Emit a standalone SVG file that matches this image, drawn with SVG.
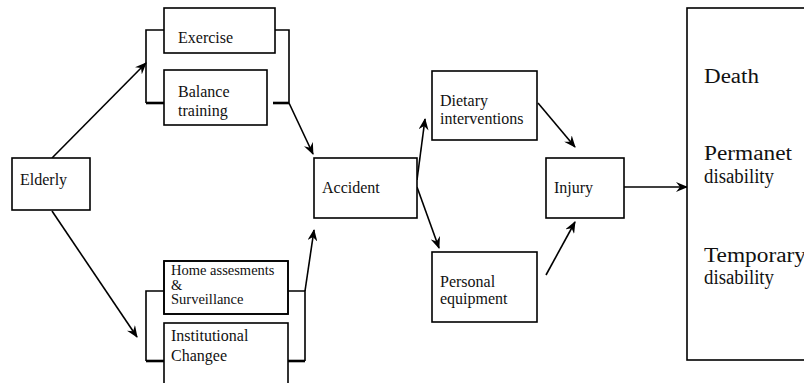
<svg xmlns="http://www.w3.org/2000/svg" width="804" height="383" viewBox="0 0 804 383">
<style>
.box{fill:#fff;stroke:#000;stroke-width:1.6}
.t{font-family:'Liberation Serif','DejaVu Serif','Noto Serif',serif;font-size:16px;fill:#111}
.s{font-family:'Liberation Serif','DejaVu Serif','Noto Serif',serif;font-size:14.5px;fill:#111}
.big{font-family:'Liberation Serif','DejaVu Serif','Noto Serif',serif;font-size:20px;fill:#111}
.ln{fill:none;stroke:#000;stroke-width:1.6}
.th{fill:none;stroke:#000;stroke-width:2.6}
.ar{fill:none;stroke:#000;stroke-width:1.6;marker-end:url(#ah)}
</style>
<defs>
<marker id="ah" viewBox="0 0 12 10" markerWidth="12" markerHeight="10" refX="11" refY="5" orient="auto" markerUnits="userSpaceOnUse">
<path d="M0,0 L12,5 L0,10 L4,5 z" fill="#000"/>
</marker>
<clipPath id="hc"><rect x="164" y="261" width="124" height="53"/></clipPath>
</defs>
<rect width="804" height="383" fill="#fff"/>
<g id="connectors">
<path class="ln" d="M164,30 H146 V103"/>
<path class="th" d="M146,103 H164"/>
<path class="ln" d="M275,30 H289 V103"/>
<path class="th" d="M273,103 H289"/>
<path class="ln" d="M164,291 H146 V361"/>
<path class="th" d="M146,361 H164"/>
<path class="ln" d="M288,291 H305 V361"/>
<path class="th" d="M288,361 H305"/>
<line class="ar" x1="52" y1="158" x2="146" y2="63"/>
<line class="ar" x1="52" y1="211" x2="137" y2="337"/>
<line class="ar" x1="289" y1="103" x2="313" y2="154"/>
<line class="ar" x1="305" y1="291" x2="314" y2="230"/>
<line class="ar" x1="417" y1="180" x2="425" y2="119"/>
<line class="ar" x1="417" y1="187" x2="439" y2="248"/>
<line class="ar" x1="538" y1="103" x2="575" y2="147"/>
<line class="ar" x1="546" y1="275" x2="575" y2="222"/>
<line class="ar" x1="624" y1="187" x2="687" y2="187"/>
</g>
<g id="elderly"><rect class="box" x="12" y="158" width="78" height="52"/><text class="t" x="20" y="185">Elderly</text></g>
<g id="exercise"><rect class="box" x="164" y="8" width="111" height="45"/><text class="t" x="178" y="43">Exercise</text></g>
<g id="balance"><rect class="box" x="164" y="70" width="103" height="55"/><text class="t" x="178" y="97">Balance</text><text class="t" x="178" y="116">training</text></g>
<g id="home"><rect class="box" x="164" y="261" width="124" height="53"/><g clip-path="url(#hc)"><text class="s" x="171" y="275">Home assesments</text><text class="s" x="171" y="289.5">&amp;</text><text class="s" x="171" y="304">Surveillance</text></g><rect x="164" y="261" width="124" height="53" fill="none" stroke="#000" stroke-width="1.6"/></g>
<g id="institutional"><rect class="box" x="164" y="323" width="124" height="70"/><text class="t" x="171" y="341">Institutional</text><text class="t" x="171" y="361">Changee</text></g>
<g id="accident"><rect class="box" x="314" y="158" width="103" height="60"/><text class="t" x="322" y="193">Accident</text></g>
<g id="dietary"><rect class="box" x="432" y="71" width="105" height="69"/><text class="t" x="440" y="106">Dietary</text><text class="t" x="440" y="124">interventions</text></g>
<g id="personal"><rect class="box" x="432" y="252" width="105" height="70"/><text class="t" x="440" y="287">Personal</text><text class="t" x="440" y="304">equipment</text></g>
<g id="injury"><rect class="box" x="546" y="158" width="78" height="60"/><text class="t" x="554" y="193">Injury</text></g>
<g id="outcomes"><rect class="box" x="687" y="8" width="130" height="352"/>
<text class="big" x="704" y="83" textLength="55" lengthAdjust="spacingAndGlyphs">Death</text>
<text class="big" x="704" y="160" textLength="88" lengthAdjust="spacingAndGlyphs">Permanet</text>
<text class="big" x="704" y="183" textLength="70" lengthAdjust="spacingAndGlyphs">disability</text>
<text class="big" x="704" y="262" textLength="102" lengthAdjust="spacingAndGlyphs">Temporary</text>
<text class="big" x="704" y="284" textLength="70" lengthAdjust="spacingAndGlyphs">disability</text>
</g>
</svg>
